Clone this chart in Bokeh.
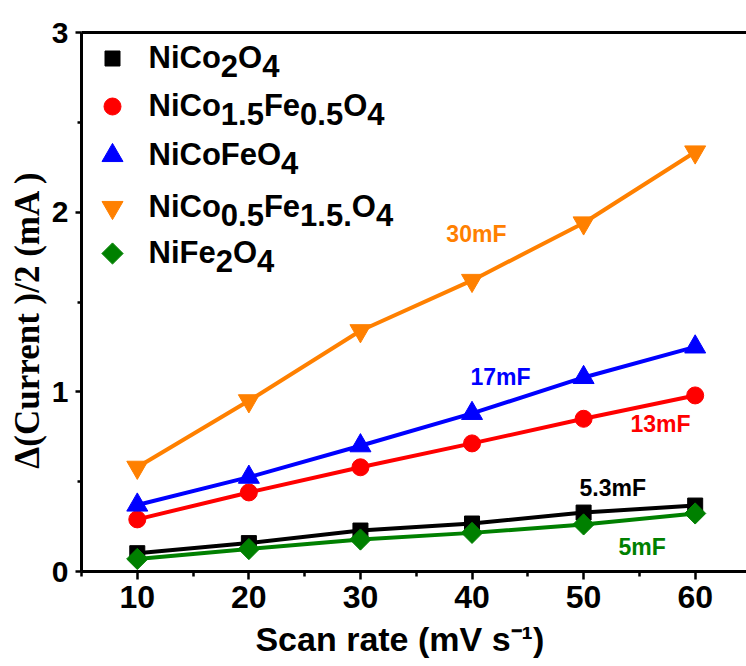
import numpy as np
from bokeh.plotting import figure
from bokeh.models import Label, LinearAxis, FixedTicker
from bokeh.embed import file_html
from bokeh.resources import INLINE

# ---------------- data ----------------
scan_rate = [10, 20, 30, 40, 50, 60]
nico2o4 = [0.102, 0.158, 0.228, 0.267, 0.328, 0.367]
nico15fe05o4 = [0.29, 0.44, 0.58, 0.713, 0.85, 0.98]
nicofeo4 = [0.37, 0.525, 0.70, 0.88, 1.08, 1.25]
nico05fe15o4 = [0.58, 0.95, 1.34, 1.62, 1.94, 2.335]
nife2o4 = [0.07, 0.125, 0.178, 0.215, 0.262, 0.323]

x_ticks = [10, 20, 30, 40, 50, 60]
x_minor = [5, 15, 25, 35, 45, 55]
y_ticks = [0, 1, 2, 3]
y_minor = [0.5, 1.5, 2.5]

NB = "\u00A0"
x_label = "Scan rate (mV s\u207B\u00B9)" + NB * 3
y_label = "\u0394(Current )/2 (mA )" + NB * 4

cap_text = ["30mF", "17mF", "13mF", "5.3mF", "5mF"]
cap_x = [37.7, 39.86, 54.2, 49.63, 53.13]
cap_y = [1.876, 1.08, 0.819, 0.462, 0.134]

# legend entries: (text piece, is_subscript)
legend_rows = [
    [("NiCo", 0), ("2", 1), ("O", 0), ("4", 1)],
    [("NiCo", 0), ("1.5", 1), ("Fe", 0), ("0.5", 1), ("O", 0), ("4", 1)],
    [("NiCoFeO", 0), ("4", 1)],
    [("NiCo", 0), ("0.5", 1), ("Fe", 0), ("1.5.", 1), ("O", 0), ("4", 1)],
    [("NiFe", 0), ("2", 1), ("O", 0), ("4", 1)],
]

colors = ["#000000", "#FF0000", "#0000FF", "#FF8000", "#008000"]
series = [nico2o4, nico15fe05o4, nicofeo4, nico05fe15o4, nife2o4]
markers = ["square", "circle", "triangle", "inverted_triangle", "square"]
msizes = [15, 17, 21, 21, 15]
mangles = [0, 0, 0, 0, np.pi / 4]

# ---------------- layout ----------------
W, H = 746, 664
LEFT, TOP, BOTTOM = 81, 32, 93
X0, X1 = 5, 64.6
Y0, Y1 = 0, 3
FONT = "Liberation Sans"

p = figure(width=W, height=H, x_range=(X0, X1), y_range=(Y0, Y1),
           output_backend="svg", toolbar_location=None,
           min_border_left=LEFT, min_border_right=0,
           min_border_top=TOP, min_border_bottom=BOTTOM)
p.outline_line_color = None
p.xgrid.visible = False
p.ygrid.visible = False
p.background_fill_color = "white"

pxx = (W - LEFT) / (X1 - X0)
pxy = (H - TOP - BOTTOM) / (Y1 - Y0)

# axes
xa = p.xaxis[0]
xa.ticker = FixedTicker(ticks=x_ticks, minor_ticks=x_minor)
xa.axis_line_width = 3
xa.major_tick_line_width = 2.5
xa.minor_tick_line_width = 2.5
xa.major_tick_out = 8
xa.major_tick_in = 0
xa.minor_tick_out = 5
xa.minor_tick_in = 0
xa.major_label_text_font = FONT
xa.major_label_text_font_style = "bold"
xa.major_label_text_font_size = "32px"
xa.major_label_text_color = "black"
xa.major_label_standoff = 6
xa.axis_label = x_label
xa.axis_label_text_font = FONT
xa.axis_label_text_font_style = "bold"
xa.axis_label_text_font_size = "34px"
xa.axis_label_text_color = "black"
xa.axis_label_standoff = 9

ya = p.yaxis[0]
ya.ticker = FixedTicker(ticks=y_ticks, minor_ticks=y_minor)
ya.axis_line_width = 3
ya.major_tick_line_width = 2.5
ya.minor_tick_line_width = 2.5
ya.major_tick_out = 6
ya.major_tick_in = 0
ya.minor_tick_out = 4
ya.minor_tick_in = 0
ya.major_label_text_font = FONT
ya.major_label_text_font_style = "bold"
ya.major_label_text_font_size = "30px"
ya.major_label_text_color = "black"
ya.major_label_standoff = 7
ya.axis_label = y_label
ya.axis_label_text_font = "Liberation Serif"
ya.axis_label_text_font_style = "bold"
ya.axis_label_text_font_size = "35px"
ya.axis_label_text_color = "black"
ya.axis_label_standoff = 2

top_axis = LinearAxis(ticker=FixedTicker(ticks=[]),
                      axis_line_width=3, major_tick_in=0, major_tick_out=0,
                      minor_tick_in=0, minor_tick_out=0)
p.add_layout(top_axis, "above")

# series
for ys, c, m, s, a in zip(series, colors, markers, msizes, mangles):
    p.line(scan_rate, ys, line_color=c, line_width=4)
    p.scatter(scan_rate, ys, marker=m, size=s, angle=a,
              fill_color=c, line_color=c)

# capacitance annotations
for t, x, y, c in zip(cap_text, cap_x, cap_y,
                      [colors[3], colors[2], colors[1], colors[0], colors[4]]):
    p.add_layout(Label(x=x, y=y, text=t, text_font=FONT, text_font_style="bold",
                       text_font_size="23px", text_color=c,
                       text_align="left", text_baseline="alphabetic"))

# text width helper (Arial bold metrics, em units)
WID = {'N': .722, 'i': .278, 'C': .722, 'o': .611, 'F': .611, 'e': .556,
       'O': .778, '.': .278}


def tw(s, size):
    return sum(WID.get(ch, .556) for ch in s) * size


# legend
LEG_FS = 31
leg_marker_x = X0 + (112 - LEFT) / pxx
leg_text_x = X0 + (148 - LEFT) / pxx
row_marker_px = [58, 106, 155, 207, 253]
for i, row in enumerate(legend_rows):
    my = Y1 - (row_marker_px[i] - TOP) / pxy
    base_y = my + 1 / pxy
    p.scatter([leg_marker_x], [my], marker=markers[i], size=msizes[i],
              angle=mangles[i], fill_color=colors[i], line_color=colors[i])
    xpx = 0.0
    for txt, sub in row:
        yy = base_y - (8 / pxy if sub else 0)
        p.add_layout(Label(x=leg_text_x + xpx / pxx, y=yy, text=txt,
                           text_font=FONT, text_font_style="bold",
                           text_font_size=f"{LEG_FS}px", text_color="black",
                           text_align="left", text_baseline="alphabetic"))
        xpx += tw(txt, LEG_FS)

open("out.html", "w").write(file_html(p, INLINE))
